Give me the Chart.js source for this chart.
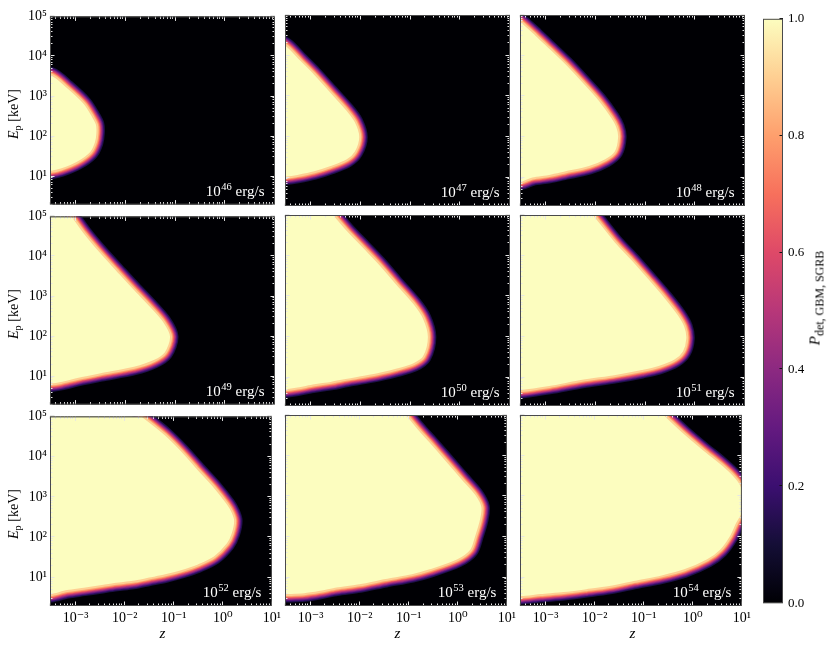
<!DOCTYPE html>
<html>
<head>
<meta charset="utf-8">
<script src="https://cdn.jsdelivr.net/npm/chart.js@4.4.1/dist/chart.umd.min.js"></script>
<style>
  html, body { margin: 0; padding: 0; background: #ffffff; }
  body { width: 831px; height: 651px; position: relative; overflow: hidden;
         font-family: "Liberation Serif", "DejaVu Serif", serif; color: #000; }
  canvas { position: absolute; }
  .lbl { position: absolute; white-space: nowrap; line-height: 1; transform-origin: center center; }
  .lbl sub { font-size: 0.74em; vertical-align: -0.3em; line-height: 0; }
</style>
</head>
<body>
<script>
// ---------------- data ----------------
const luminosityExponents = [46, 47, 48, 49, 50, 51, 52, 53, 54];

// detection-region boundary (z, Ep in keV), traced around the P_det ~ 1 region
const zL46  = [1e-4, 3.16e-4, 6.76e-4, 1.48e-3, 2.19e-3, 2.63e-3, 2.69e-3, 2.51e-3, 2.0e-3, 1.07e-3, 5.01e-4, 3.16e-4, 1e-4];
const epL46 = [3980, 3550, 1700, 676, 316, 200, 123, 70.8, 39.8, 22.4, 15.1, 13.2, 11.5];

const zL47  = [1e-4, 3.16e-4, 6.31e-4, 1.17e-3, 2.51e-3, 5.37e-3, 7.94e-3, 9.77e-3, 7.94e-3, 5.37e-3, 2.51e-3, 1.17e-3, 5.37e-4, 3.16e-4, 1e-4];
const epL47 = [39800, 18200, 7760, 3630, 1290, 457, 234, 100, 42.7, 26.9, 18.2, 13.5, 11.0, 10.0, 8.91];

const zL48  = [1e-4, 3.16e-4, 6.31e-4, 1.17e-3, 2.51e-3, 5.37e-3, 0.0117, 0.0214, 0.0269, 0.0295, 0.0251, 0.0158, 7.41e-3, 2.51e-3, 1.17e-3, 5.37e-4, 3.16e-4, 1e-4];
const epL48 = [2e5, 69200, 32400, 15800, 6460, 2400, 832, 302, 178, 100, 42.7, 26.9, 18.2, 13.5, 11.0, 9.55, 7.59, 6.61];

const zL49  = [1e-4, 5.37e-4, 8.51e-4, 1.48e-3, 3.16e-3, 6.76e-3, 0.0148, 0.0316, 0.0589, 0.0813, 0.0631, 0.0372, 0.0148, 3.16e-3, 1.07e-3, 5.01e-4, 3.16e-4, 1e-4];
const epL49 = [2e5, 2e5, 1e5, 38900, 12600, 4470, 1550, 575, 234, 100, 38.9, 24.5, 16.6, 11.5, 8.71, 6.92, 6.31, 5.75];

const zL50  = [1e-4, 1.82e-3, 2.95e-3, 5.37e-3, 0.0117, 0.0251, 0.0537, 0.1175, 0.186, 0.234, 0.186, 0.1175, 0.0537, 0.0251, 0.0117, 5.37e-3, 2.51e-3, 1.17e-3, 5.37e-4, 3.16e-4, 1e-4];
const epL50 = [2e5, 2e5, 1e5, 42700, 15800, 5890, 2000, 676, 288, 100, 32.4, 21.4, 15.8, 12.6, 10.5, 8.91, 7.41, 6.46, 5.37, 4.90, 4.47];

const zL51  = [1e-4, 5.89e-3, 9.33e-3, 0.0251, 0.0537, 0.1175, 0.251, 0.468, 0.631, 0.692, 0.589, 0.398, 0.186, 0.0851, 0.0251, 5.37e-3, 1.17e-3, 3.16e-4, 1e-4];
const epL51 = [2e5, 2e5, 1e5, 21900, 8130, 2750, 933, 347, 178, 91.2, 42.7, 26.9, 18.2, 14.5, 11.0, 8.32, 5.89, 4.68, 4.27];

const zL52  = [1e-4, 0.0115, 0.0234, 0.0676, 0.148, 0.316, 0.676, 1.26, 1.585, 1.78, 1.585, 1.26, 0.676, 0.316, 0.148, 0.0676, 0.0316, 0.0148, 6.76e-3, 3.16e-3, 1.48e-3, 6.76e-4, 3.72e-4, 3.16e-4, 1e-4];
const epL52 = [2e5, 2e5, 1e5, 35500, 13800, 4900, 1780, 676, 417, 257, 123, 69.2, 32.4, 20.4, 14.8, 11.5, 9.55, 7.94, 7.08, 6.17, 5.37, 4.68, 3.89, 3.72, 3.55];

const zL53  = [1e-4, 0.0631, 0.0933, 0.158, 0.269, 0.589, 1.26, 2.34, 3.16, 2.95, 2.34, 1.86, 1.0, 0.269, 0.1175, 0.0339, 0.01, 3.39e-3, 1.585e-3, 7.41e-4, 3.16e-4, 1e-4];
const epL53 = [2e5, 2e5, 1e5, 45700, 22400, 7590, 2630, 1120, 550, 257, 100, 46.8, 26.9, 15.1, 11.5, 8.71, 6.46, 5.37, 4.47, 3.89, 3.72, 3.55];

const zL54  = [1e-4, 0.1445, 0.269, 0.676, 1.70, 3.72, 6.76, 9.55, 11.5, 10.5, 7.94, 5.89, 3.72, 2.0, 0.676, 0.234, 0.0676, 0.02, 6.76e-3, 2.34e-3, 7.94e-4, 3.16e-4, 1e-4];
const epL54 = [2e5, 2e5, 1e5, 35500, 13800, 6460, 3310, 1910, 891, 398, 214, 100, 46.8, 26.9, 15.1, 10.7, 7.94, 5.89, 4.90, 4.17, 3.72, 3.31, 3.16];

const xTickValues = [1e-3, 1e-2, 1e-1, 1, 10];
const xTickLabels = ['10\u207B\u00B3', '10\u207B\u00B2', '10\u207B\u00B9', '10\u2070', '10\u00B9'];
const yTickValues = [10, 100, 1e3, 1e4, 1e5];
const yTickLabels = ['10\u00B9', '10\u00B2', '10\u00B3', '10\u2074', '10\u2075'];
const zRange = [3.1623e-4, 10];
const epRange = [2, 1e5];

const colorbarTicks = [0, 0.2, 0.4, 0.6, 0.8, 1.0];
const magmaStops = ['#000004', '#140e36', '#3b0f70', '#641a80', '#8c2981', '#b73779',
                    '#de4968', '#f7705c', '#fe9f6d', '#fecf92', '#fcfdbf'];

// ---------------- layout / style ----------------
const PANEL_W = 225, PANEL_H = 191;
const colLeft = [50, 285, 520];
const rowTop = [15, 215, 415];
const SERIF = '"Liberation Serif", "DejaVu Serif", serif';

const boundaries = [
  [zL46, epL46], [zL47, epL47], [zL48, epL48],
  [zL49, epL49], [zL50, epL50], [zL51, epL51],
  [zL52, epL52], [zL53, epL53], [zL54, epL54]
];

// edge bands: colour + stroke width (drawn under the yellow fill)
const edgeBands = [
  ['#fecf92', 2], ['#fe9f6d', 4], ['#f7705c', 5.5], ['#de4968', 7],
  ['#b73779', 8.5], ['#8c2981', 10], ['#641a80', 11.5], ['#3b0f70', 13], ['#1d1147', 15]
];

function tickLabel(values, labels) {
  return function (v) {
    for (let i = 0; i < values.length; i++) {
      if (Math.abs(Math.log10(v) - Math.log10(values[i])) < 1e-6) return labels[i];
    }
    return '';
  };
}

const panelDecor = {
  id: 'panelDecor',
  beforeDatasetsDraw(chart, args, opts) {
    const { ctx, chartArea: a } = chart;
    ctx.save();
    ctx.fillStyle = '#000004';
    ctx.fillRect(a.left, a.top, a.right - a.left, a.bottom - a.top);
    ctx.restore();
  },
  afterDatasetsDraw(chart, args, opts) {
    const { ctx, chartArea: a, scales } = chart;
    const xs = scales.x, ys = scales.y;
    ctx.save();
    ctx.strokeStyle = '#e6e6e6';
    ctx.lineWidth = 1;
    ctx.beginPath();
    for (let e = -4; e <= 1; e++) {
      for (let m = 1; m <= 9; m++) {
        const v = m * Math.pow(10, e);
        if (v < xs.min * 0.999 || v > xs.max * 1.001) continue;
        const len = m === 1 ? 4.5 : 2.5;
        const px = Math.round(xs.getPixelForValue(v)) - 0.5;
        ctx.moveTo(px, a.bottom); ctx.lineTo(px, a.bottom - len);
        ctx.moveTo(px, a.top); ctx.lineTo(px, a.top + len);
      }
    }
    for (let e = 0; e <= 5; e++) {
      for (let m = 1; m <= 9; m++) {
        const v = m * Math.pow(10, e);
        if (v < ys.min * 0.999 || v > ys.max * 1.001) continue;
        const len = m === 1 ? 4.5 : 2.5;
        const py = Math.round(ys.getPixelForValue(v)) - 0.5;
        ctx.moveTo(a.left, py); ctx.lineTo(a.left + len, py);
        ctx.moveTo(a.right, py); ctx.lineTo(a.right - len, py);
      }
    }
    ctx.stroke();
    // frame
    ctx.strokeStyle = '#4a4a4a';
    ctx.strokeRect(a.left + 0.5, a.top + 0.5, a.right - a.left - 1, a.bottom - a.top - 1);
    // luminosity annotation
    if (opts.exp) {
      const fBase = '15px ' + SERIF, fSup = '10.5px ' + SERIF;
      ctx.fillStyle = '#ffffff';
      ctx.textAlign = 'left';
      ctx.textBaseline = 'alphabetic';
      ctx.font = fBase;
      const w1 = ctx.measureText('10').width;
      const w3 = ctx.measureText(' erg/s').width;
      ctx.font = fSup;
      const sup = String(opts.exp);
      const w2 = ctx.measureText(sup).width;
      let x = a.right - 11 - (w1 + w2 + w3);
      const y = a.bottom - 9;
      ctx.font = fBase; ctx.fillText('10', x, y); x += w1;
      ctx.font = fSup; ctx.fillText(sup, x + 0.5, y - 6); x += w2 + 0.5;
      ctx.font = fBase; ctx.fillText(' erg/s', x, y);
    }
    ctx.restore();
  }
};

function makePanel(i) {
  const r = Math.floor(i / 3), c = i % 3;
  const [zs, eps] = boundaries[i];
  const pts = zs.map((z, k) => ({ x: z, y: eps[k] }));
  const showY = c === 0, showX = r === 2;
  const padL = showY ? 0 : 10, axisW = showY ? 50 : 0;
  const padB = showX ? 0 : 10, axisH = showX ? 30 : 0;
  const cw = padL + axisW + PANEL_W + 10;
  const ch = 10 + PANEL_H + padB + axisH;
  const cv = document.createElement('canvas');
  cv.width = cw; cv.height = ch;
  cv.style.width = cw + 'px'; cv.style.height = ch + 'px';
  cv.style.left = (colLeft[c] - axisW - padL) + 'px';
  cv.style.top = (rowTop[r] - 10) + 'px';
  document.body.appendChild(cv);

  const common = { data: pts, pointRadius: 0, pointHoverRadius: 0, tension: 0.3,
                   borderJoinStyle: 'round', borderCapStyle: 'round', clip: 0 };
  const datasets = [Object.assign({}, common, {
    label: '10^' + luminosityExponents[i] + ' erg/s',
    fill: 'shape', backgroundColor: '#fcfdbf',
    borderColor: edgeBands[0][0], borderWidth: edgeBands[0][1]
  })];
  for (let b = 1; b < edgeBands.length; b++) {
    datasets.push(Object.assign({}, common, {
      label: 'edge' + b, fill: false,
      borderColor: edgeBands[b][0], borderWidth: edgeBands[b][1]
    }));
  }

  new Chart(cv, {
    type: 'line',
    data: { datasets },
    options: {
      responsive: false, animation: false, devicePixelRatio: 1, events: [],
      layout: { padding: { left: padL, right: 10, top: 10, bottom: padB } },
      elements: { line: { capBezierPoints: false } },
      plugins: { legend: { display: false }, tooltip: { enabled: false },
                 panelDecor: { exp: luminosityExponents[i] } },
      scales: {
        x: {
          type: 'logarithmic', min: zRange[0], max: zRange[1], display: showX,
          grid: { display: false, drawTicks: false }, border: { display: false },
          afterBuildTicks: s => { s.ticks = xTickValues.map(v => ({ value: v })); },
          afterFit: s => { s.height = axisH; },
          ticks: { autoSkip: false, maxRotation: 0, padding: 4, color: '#000',
                   font: { family: SERIF, size: 14 }, callback: tickLabel(xTickValues, xTickLabels) }
        },
        y: {
          type: 'logarithmic', min: epRange[0], max: epRange[1], display: showY,
          grid: { display: false, drawTicks: false }, border: { display: false },
          afterBuildTicks: s => { s.ticks = yTickValues.map(v => ({ value: v })); },
          afterFit: s => { s.width = axisW; },
          ticks: { autoSkip: false, padding: 3, color: '#000',
                   font: { family: SERIF, size: 14 }, callback: tickLabel(yTickValues, yTickLabels) }
        }
      }
    },
    plugins: [panelDecor]
  });
}

for (let i = 0; i < 9; i++) makePanel(i);

// ---------------- colour bar ----------------
const cbDecor = {
  id: 'cbDecor',
  afterDatasetsDraw(chart) {
    const { ctx, chartArea: a, scales } = chart;
    ctx.save();
    ctx.strokeStyle = '#111';
    ctx.lineWidth = 1;
    ctx.beginPath();
    colorbarTicks.forEach(v => {
      const py = Math.round(scales.y.getPixelForValue(v)) - 0.5;
      ctx.moveTo(a.right, py); ctx.lineTo(a.right - 3.5, py);
    });
    ctx.stroke();
    ctx.strokeStyle = '#4a4a4a';
    ctx.strokeRect(a.left + 0.5, a.top + 0.5, a.right - a.left - 1, a.bottom - a.top - 1);
    ctx.restore();
  }
};

(function () {
  const cv = document.createElement('canvas');
  const cw = 10 + 20 + 40, ch = 10 + 590 + 10;
  cv.width = cw; cv.height = ch;
  cv.style.width = cw + 'px'; cv.style.height = ch + 'px';
  cv.style.left = (763 - 10) + 'px';
  cv.style.top = (16 - 10) + 'px';
  document.body.appendChild(cv);
  new Chart(cv, {
    type: 'bar',
    data: {
      labels: ['P'],
      datasets: [{
        data: [1], barPercentage: 1, categoryPercentage: 1, borderWidth: 0,
        backgroundColor: (ctx) => {
          const a = ctx.chart.chartArea;
          if (!a) return magmaStops[5];
          const g = ctx.chart.ctx.createLinearGradient(0, a.bottom, 0, a.top);
          magmaStops.forEach((col, k) => g.addColorStop(k / (magmaStops.length - 1), col));
          return g;
        }
      }]
    },
    options: {
      responsive: false, animation: false, devicePixelRatio: 1, events: [],
      layout: { padding: { left: 10, right: 0, top: 10, bottom: 10 } },
      plugins: { legend: { display: false }, tooltip: { enabled: false } },
      scales: {
        x: { display: false },
        y: {
          position: 'right', min: 0, max: 1,
          grid: { display: false, drawTicks: false }, border: { display: false },
          afterBuildTicks: s => { s.ticks = colorbarTicks.map(v => ({ value: v })); },
          afterFit: s => { s.width = 40; },
          ticks: { padding: 5, color: '#000', font: { family: SERIF, size: 13 },
                   callback: v => Number(v).toFixed(1) }
        }
      }
    },
    plugins: [cbDecor]
  });
})();

// ---------------- axis titles ----------------
function addLabel(html, cx, cy, size, rotate) {
  const d = document.createElement('div');
  d.className = 'lbl';
  d.innerHTML = html;
  d.style.fontSize = size + 'px';
  d.style.left = cx + 'px';
  d.style.top = cy + 'px';
  d.style.transform = 'translate(-50%, -50%)' + (rotate ? ' rotate(-90deg)' : '');
  document.body.appendChild(d);
}
rowTop.forEach(t => addLabel('<i>E</i><sub>p</sub> [keV]', 14, t + PANEL_H / 2 + 3, 14, true));
colLeft.forEach(l => addLabel('<i>z</i>', l + PANEL_W / 2, 633, 15, false));
addLabel('<i>P</i><sub style="font-size:12px">det, GBM, SGRB</sub>', 815, 298, 15, true);
</script>
</body>
</html>
